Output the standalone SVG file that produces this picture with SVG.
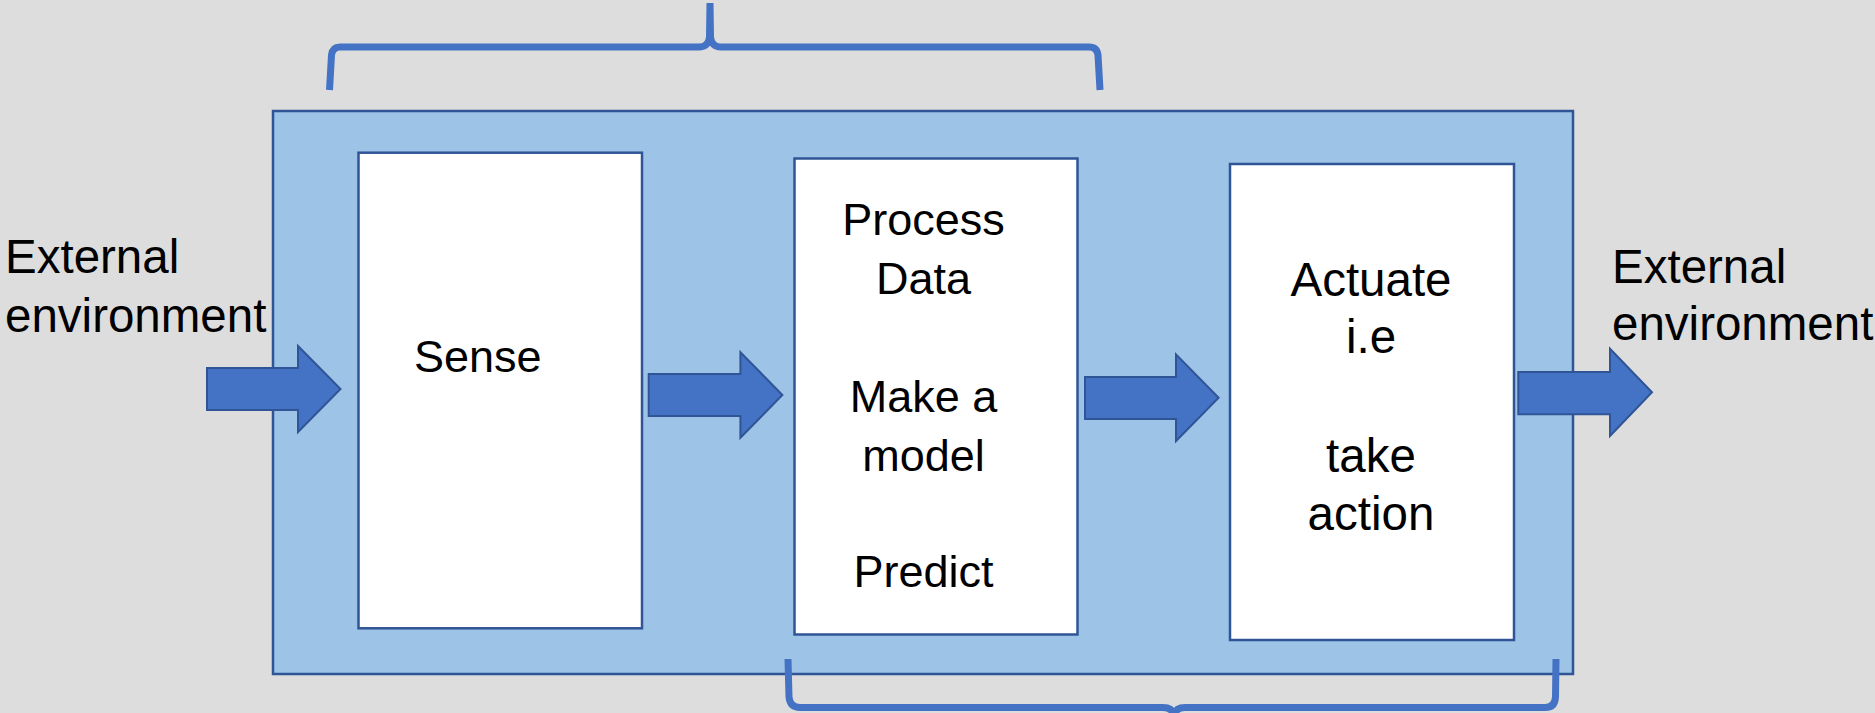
<svg xmlns="http://www.w3.org/2000/svg" width="1875" height="713" viewBox="0 0 1875 713">
  <style>
    .panel { fill: #9DC3E6; stroke: #2F5597; stroke-width: 2.5; }
    .box { fill: #FFFFFF; stroke: #2F5597; stroke-width: 2.5; }
    .arrow { fill: #4472C4; stroke: #2F5597; stroke-width: 2; stroke-linejoin: miter; }
    .brace { fill: none; stroke: #4472C4; stroke-width: 7; stroke-linecap: butt; stroke-linejoin: round; }
    .lbl { font-family: "Liberation Sans", Arial, sans-serif; fill: #000000; }
    .big { font-size: 47.5px; }
    .mid { font-size: 45px; }
  </style>
  <rect x="0" y="0" width="1875" height="713" fill="#DDDDDD"/>

  <g id="system">
    <rect class="panel" x="273" y="111" width="1300" height="563"/>
  </g>

  <g id="brace-top">
    <path class="brace" d="M 329.5,90 L 331.5,55 Q 332.5,47 340,47 L 699,47 Q 708.5,47 709.5,37 L 710,3 M 710,3 L 710.5,37 Q 711.5,47 721,47 L 1089,47 Q 1097,47 1098,55 L 1100,90"/>
  </g>
  <g id="brace-bottom">
    <path class="brace" d="M 788,659 L 789,697 Q 790,707.5 800,707.5 L 1163,707.5 Q 1173,707.5 1174,716 L 1174,722 M 1174,722 L 1174,716 Q 1175,707.5 1185,707.5 L 1545,707.5 Q 1555,707.5 1555.5,697 L 1556,659"/>
  </g>

  <g id="sense">
    <rect class="box" x="358.5" y="152.7" width="283.5" height="475.6"/>
    <text class="lbl mid" x="414" y="372">Sense</text>
  </g>

  <g id="process">
    <rect class="box" x="794.5" y="158.5" width="283" height="476"/>
    <g class="lbl mid" text-anchor="middle">
      <text x="923.5" y="235">Process</text>
      <text x="923.5" y="294">Data</text>
      <text x="923.5" y="412">Make a</text>
      <text x="923.5" y="470.5">model</text>
      <text x="923.5" y="587">Predict</text>
    </g>
  </g>

  <g id="actuate">
    <rect class="box" x="1230" y="164" width="284" height="476"/>
    <g class="lbl big" text-anchor="middle">
      <text x="1371" y="295.7">Actuate</text>
      <text x="1371" y="353.3">i.e</text>
      <text x="1371" y="471.7">take</text>
      <text x="1371" y="530">action</text>
    </g>
  </g>

  <g id="external-in">
    <text class="lbl big" x="5" y="273.3">External</text>
    <text class="lbl big" x="5" y="331.7">environment</text>
  </g>

  <g id="external-out">
    <text class="lbl big" x="1612" y="282.7">External</text>
    <text class="lbl big" x="1612" y="340">environment</text>
  </g>

  <g id="connectors">
    <polygon class="arrow" points="207,368 298,368 298,346 340.5,389 298,432 298,410 207,410"/>
    <polygon class="arrow" points="648.7,374 740.4,374 740.4,352.3 782.4,395 740.4,437.7 740.4,416 648.7,416"/>
    <polygon class="arrow" points="1085,377 1176,377 1176,354.4 1218.6,397.7 1176,441 1176,419 1085,419"/>
    <polygon class="arrow" points="1518.3,372 1610,372 1610,348.7 1652,392.3 1610,436 1610,414.3 1518.3,414.3"/>
  </g>
</svg>
